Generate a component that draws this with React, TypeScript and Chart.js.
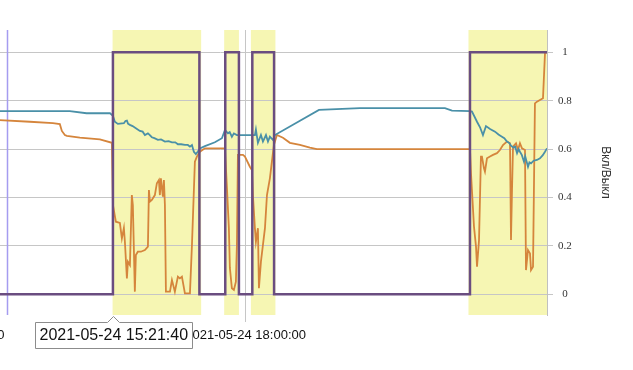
import React, { useEffect, useRef } from 'react';
import { Chart, registerables } from 'chart.js';

Chart.register(...registerables);

// time values are minutes since midnight of 2021-05-24
const DATE = '2021-05-24';
const X_MIN = 660;
const X_MAX = 1440;
const xTickTimes = [720, 1080];
const yTicks = [0, 0.2, 0.4, 0.6, 0.8, 1];
const yTitle = 'Вкл/Выкл';
const markerTime = 795;
const tooltipTime = 921.67;

const bandStarts = [921.1, 1054.4, 1086.3, 1346.2];
const bandEnds = [1026.9, 1072.0, 1115.6, 1440];

const stateTimes = [660, 921.5, 1024.8, 1055.7, 1072, 1088, 1114, 1348, 1440];
const stateValues = [0, 1, 0, 1, 0, 1, 0, 1, 1];

const tealTimes = [
  786, 870, 890, 918, 921.5, 923.8, 927.4, 934.6, 936.5, 938.2, 939.5, 941.8, 945, 948.9, 953.7, 957,
  959.7, 963.3, 965, 968, 971, 975.2, 979, 983.6, 988, 992, 996, 999.1, 1003, 1007.5, 1011, 1013.5,
  1015.9, 1018.2, 1020.6, 1023, 1025.4, 1031.4, 1043.3, 1051.7, 1055.3, 1058.9, 1061, 1063.6, 1066,
  1069.6, 1091.1, 1092.3, 1094.7, 1098.3, 1100.7, 1104.3, 1106.7, 1109, 1112.6, 1115, 1167.6, 1216.6,
  1318.1, 1326.5, 1348, 1350.4, 1356.4, 1360, 1363.5, 1367.1, 1372, 1377.9, 1382, 1386.2, 1389, 1392.2,
  1395, 1397, 1400, 1402, 1404.2, 1406, 1407.7, 1410, 1412.5, 1414, 1417.3, 1419, 1420.9, 1424, 1428,
  1431.6, 1435, 1437.6, 1440,
];
const tealValues = [
  0.757, 0.757, 0.748, 0.748, 0.738, 0.713, 0.704, 0.707, 0.716, 0.718, 0.705, 0.7, 0.695, 0.686, 0.675, 0.672,
  0.658, 0.665, 0.66, 0.649, 0.645, 0.638, 0.64, 0.631, 0.633, 0.628, 0.628, 0.62, 0.62, 0.617, 0.617, 0.61,
  0.617, 0.589, 0.579, 0.59, 0.603, 0.612, 0.628, 0.645, 0.679, 0.665, 0.67, 0.651, 0.665,
  0.658, 0.658, 0.681, 0.626, 0.658, 0.631, 0.658, 0.631, 0.651, 0.638, 0.658, 0.762, 0.769,
  0.769, 0.759, 0.757, 0.755, 0.713, 0.69, 0.658, 0.695, 0.683, 0.672, 0.66, 0.651, 0.645, 0.631,
  0.625, 0.614, 0.606, 0.61, 0.583, 0.6, 0.589, 0.575, 0.548, 0.57, 0.527, 0.545, 0.541, 0.552, 0.555,
  0.562, 0.575, 0.589, 0.603,
];

const orangeTimes = [
  786, 822.3, 849.8, 858.1, 860.5, 864.1, 866.5, 882, 905.9, 920.3, 921.5, 925, 929.8, 932.2, 934.6, 935.8,
  938.2, 939.4, 941.8, 944.1, 945.3, 947.7, 948.9, 951.3, 954.9, 959.7, 963.3, 964.5, 965.7, 968, 971.6,
  974, 976.4, 977.6, 978.8, 981.2, 982.4, 983.6, 984.8, 989.6, 992, 995.5, 999.1, 1001.5, 1003.9, 1007.5,
  1013.5, 1015.9, 1019.4, 1021.8, 1025.4, 1031.4, 1055.3, 1057.7, 1060, 1061.2, 1063.6, 1066, 1068.4,
  1069.6, 1070.8, 1076.8, 1079.2, 1085.1, 1087.5, 1088.7, 1091.1, 1092.3, 1094.7, 1095.9, 1098.3, 1100.7,
  1103.1, 1105.5, 1109, 1111.4, 1113.8, 1116.2, 1117.4, 1124.6, 1132.9, 1144.9, 1156.8, 1165.2, 1348,
  1349.2, 1352.8, 1355.2, 1356.4, 1358.8, 1361.1, 1362.3, 1364.7, 1365.9, 1368.3, 1371.9, 1375.5, 1380.2,
  1383.8, 1387.4, 1392.2, 1395.8, 1397, 1398.2, 1399.4, 1403, 1405.3, 1407.7, 1410.1, 1413.7, 1414.9,
  1417.3, 1419.7, 1420.9, 1423.3, 1425.6, 1428, 1435.2, 1437.6, 1440,
];
const orangeValues = [
  0.72, 0.713, 0.707, 0.703, 0.675, 0.658, 0.655, 0.647, 0.64, 0.626, 0.369, 0.3, 0.295, 0.231, 0.274, 0.217,
  0.066, 0.135, 0.121, 0.41, 0.369, 0.011, 0.162, 0.176, 0.176, 0.183, 0.197, 0.431, 0.383, 0.39, 0.41,
  0.459, 0.472, 0.41, 0.479, 0.403, 0.472, 0.369, 0.011, 0.011, 0.059, 0.011, 0.073, 0.066, 0.073, 0.004,
  0.004, 0.204, 0.548, 0.569, 0.589, 0.603, 0.603, 0.439, 0.274, 0.109, 0.025, 0.018, 0.052,
  0.204, 0.576, 0.576, 0.569, 0.527, 0.514, 0.41, 0.273, 0.217, 0.273, 0.025, 0.135, 0.204,
  0.273, 0.41, 0.479, 0.548, 0.617, 0.645, 0.658, 0.647, 0.626, 0.617, 0.606, 0.6, 0.6,
  0.5, 0.279, 0.197, 0.114, 0.224, 0.569, 0.569, 0.521, 0.507, 0.562, 0.569, 0.576, 0.583,
  0.596, 0.617, 0.631, 0.624, 0.224, 0.431, 0.61, 0.624, 0.596, 0.624, 0.603, 0.596, 0.1,
  0.183, 0.169, 0.1, 0.114, 0.789, 0.796, 0.81, 0.996, 1.0,
];

const BAND_COLOR = '#f6f6b3';
const TEAL = '#4a90a8';
const ORANGE = '#d5853c';
const PURPLE = '#6a4d80';
const GRID = '#c6c6c6';
const MARKER = '#a59cf0';

const OFFSET = 106;
const CANVAS_W = 633 + OFFSET;
const CANVAS_H = 370;

function fmtTime(m: number): string {
  const s = Math.round(m * 60);
  const h = Math.floor(s / 3600);
  const mi = Math.floor((s % 3600) / 60);
  const se = s % 60;
  const p = (n: number) => String(n).padStart(2, '0');
  return `${DATE} ${p(h)}:${p(mi)}:${p(se)}`;
}

const zip = (t: number[], v: number[]) => t.map((x, i) => ({ x, y: v[i] }));

const bandsPlugin = {
  id: 'bands',
  beforeDraw(chart: any) {
    const { ctx, chartArea: ca, scales } = chart;
    const x = scales.x;
    ctx.save();
    ctx.fillStyle = BAND_COLOR;
    bandStarts.forEach((s, i) => {
      const x0 = x.getPixelForValue(s);
      const x1 = x.getPixelForValue(bandEnds[i]);
      ctx.fillRect(x0, ca.top, x1 - x0, ca.bottom - ca.top);
    });
    ctx.restore();
  },
  beforeDatasetsDraw(chart: any) {
    const { ctx, chartArea: ca, scales } = chart;
    const px = Math.round(scales.x.getPixelForValue(markerTime)) + 0.5;
    ctx.save();
    ctx.strokeStyle = MARKER;
    ctx.lineWidth = 1.5;
    ctx.beginPath();
    ctx.moveTo(px, ca.top);
    ctx.lineTo(px, ca.bottom);
    ctx.stroke();
    ctx.restore();
  },
  afterDraw(chart: any) {
    const { ctx, chartArea: ca, scales } = chart;
    const px = scales.x.getPixelForValue(tooltipTime);
    const text = fmtTime(tooltipTime);
    ctx.save();
    ctx.font = '16px "Liberation Sans", Arial, sans-serif';
    const tw = ctx.measureText(text).width;
    const w = Math.round(tw + 8);
    const h = 26;
    const left = Math.round(px - w / 2) + 0.5;
    const top = Math.round(ca.bottom + 7) + 0.5;
    const ax = Math.round(px) + 0.5;
    ctx.beginPath();
    ctx.moveTo(left, top);
    ctx.lineTo(ax - 6, top);
    ctx.lineTo(ax, top - 6);
    ctx.lineTo(ax + 6, top);
    ctx.lineTo(left + w, top);
    ctx.lineTo(left + w, top + h);
    ctx.lineTo(left, top + h);
    ctx.closePath();
    ctx.fillStyle = '#ffffff';
    ctx.fill();
    ctx.strokeStyle = '#8c8c8c';
    ctx.lineWidth = 1;
    ctx.stroke();
    ctx.fillStyle = '#111111';
    ctx.textBaseline = 'middle';
    ctx.textAlign = 'left';
    ctx.fillText(text, left + 4, top + h / 2 + 0.5);
    ctx.restore();
  },
};

export default function App() {
  const ref = useRef<HTMLCanvasElement | null>(null);

  useEffect(() => {
    if (!ref.current) return;
    const chart = new Chart(ref.current, {
      type: 'line',
      data: {
        datasets: [
          {
            label: 'state',
            data: zip(stateTimes, stateValues),
            borderColor: PURPLE,
            borderWidth: 2.5,
            stepped: true,
            pointRadius: 0,
            fill: false,
          },
          {
            label: 'teal',
            data: zip(tealTimes, tealValues),
            borderColor: TEAL,
            borderWidth: 1.8,
            pointRadius: 0,
            tension: 0,
            fill: false,
          },
          {
            label: 'orange',
            data: zip(orangeTimes, orangeValues),
            borderColor: ORANGE,
            borderWidth: 1.8,
            pointRadius: 0,
            tension: 0,
            fill: false,
          },
        ],
      },
      options: {
        animation: false,
        responsive: false,
        devicePixelRatio: 1,
        events: [],
        layout: { padding: { top: 30, right: 16, bottom: 0, left: 0 } },
        plugins: { legend: { display: false }, tooltip: { enabled: false } },
        scales: {
          x: {
            type: 'linear',
            min: X_MIN,
            max: X_MAX,
            afterBuildTicks: (s: any) => {
              s.ticks = xTickTimes.map((v) => ({ value: v }));
            },
            afterFit: (s: any) => {
              s.height = 55;
              s.paddingLeft = 0;
              s.paddingRight = 0;
            },
            grid: { color: GRID, tickLength: 7, drawTicks: true },
            border: { display: false },
            ticks: {
              autoSkip: false,
              maxRotation: 0,
              padding: 6,
              color: '#111111',
              font: { family: '"Liberation Sans", Arial, sans-serif', size: 13 },
              callback: (v: any) => fmtTime(Number(v)),
            },
          },
          y: {
            type: 'linear',
            position: 'right',
            min: -0.0855,
            max: 1.092,
            afterBuildTicks: (s: any) => {
              s.ticks = yTicks.map((v) => ({ value: v }));
            },
            afterFit: (s: any) => {
              s.width = 70;
            },
            grid: { color: GRID, tickLength: 6 },
            border: { display: true, color: '#c0c0c0' },
            ticks: {
              padding: 5,
              crossAlign: 'center',
              color: '#333333',
              font: { family: '"Liberation Serif", "Times New Roman", serif', size: 11 },
              callback: (v: any) => String(Math.round(Number(v) * 10) / 10),
            },
            title: {
              display: true,
              text: yTitle,
              color: '#333333',
              font: { family: '"Liberation Sans", Arial, sans-serif', size: 12 },
              padding: { top: 4, bottom: 4 },
            },
          },
        },
      } as any,
      plugins: [bandsPlugin],
    });
    return () => chart.destroy();
  }, []);

  return (
    <div style={{ position: 'absolute', left: -OFFSET, top: 0, width: CANVAS_W, height: CANVAS_H }}>
      <canvas ref={ref} width={CANVAS_W} height={CANVAS_H} style={{ display: 'block' }} />
    </div>
  );
}
